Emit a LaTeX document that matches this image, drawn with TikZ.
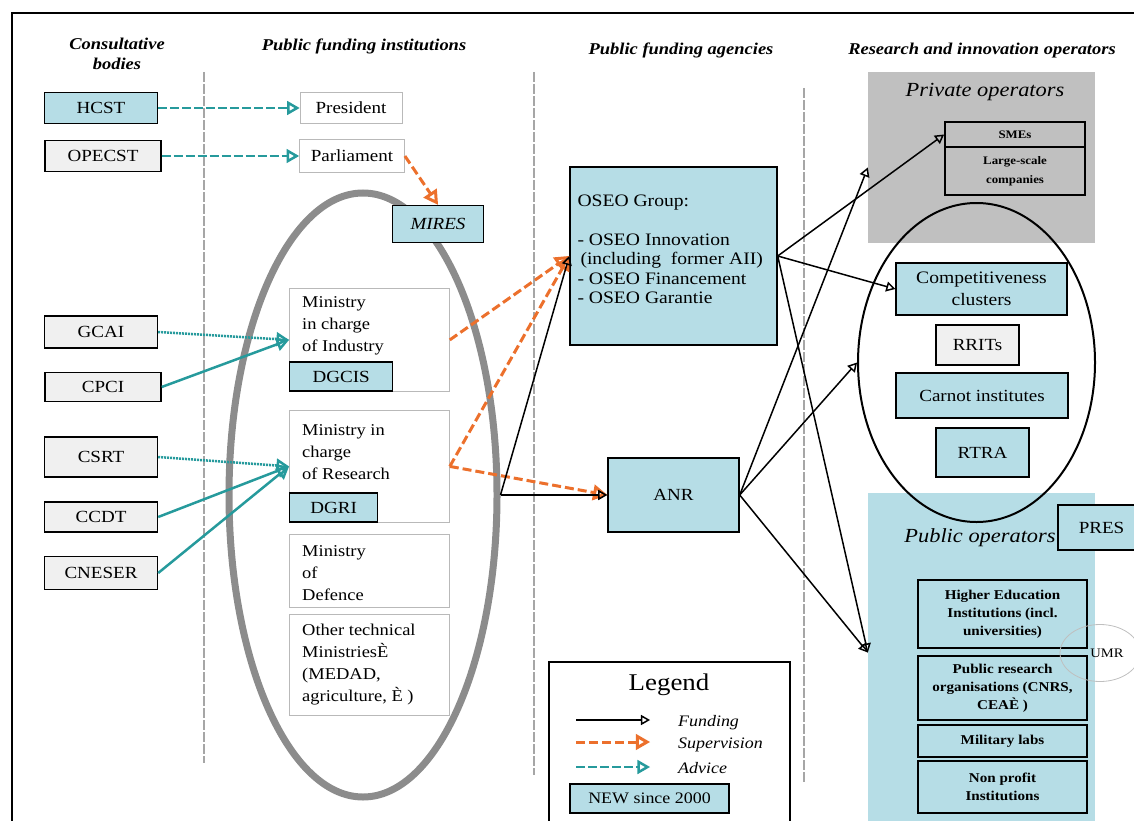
\documentclass[tikz,border=0pt]{standalone}
\usepackage{fontspec}
\setmainfont{Liberation Serif}[FakeStretch=1.12]
\usetikzlibrary{arrows,shapes.geometric}

\definecolor{lblue}{RGB}{182,221,230}
\definecolor{lgray}{RGB}{240,240,240}
\definecolor{pgray}{RGB}{192,192,192}
\definecolor{tealc}{RGB}{38,154,156}
\definecolor{orangec}{RGB}{236,112,44}

\begin{document}
\begin{tikzpicture}[x=1pt,y=-1pt,
  colhead/.style={inner sep=0pt,align=center,font=\fontsize{16.5}{20}\selectfont\bfseries\itshape},
  sepline/.style={gray!70,line width=2.5pt,dash pattern=on 10pt off 2pt},
  consbox/.style={draw,line width=1.4pt,fill=lgray,minimum width=113pt,minimum height=31pt,inner sep=0pt,font=\fontsize{17}{21}\selectfont},
  instbox/.style={draw=gray!55,line width=0.8pt,fill=white,inner sep=0pt,font=\fontsize{17}{21}\selectfont},
  minbox/.style={draw=gray!55,line width=0.8pt,fill=white,minimum width=160pt,inner sep=0pt,anchor=north west},
  mtext/.style={inner sep=0pt,anchor=north west,align=left,font=\fontsize{16.5}{22}\selectfont},
  agency/.style={draw,line width=1.4pt,fill=lblue,inner sep=0pt,align=center,font=\fontsize{17}{21}\selectfont},
  smallop/.style={draw,line width=1.8pt,fill=pgray,minimum width=140pt,inner sep=0pt,align=center,font=\fontsize{11.5}{19}\selectfont\bfseries},
  oper/.style={draw,line width=1.8pt,fill=lblue,minimum width=169pt,inner sep=0pt,align=center,font=\fontsize{13.5}{18}\selectfont\bfseries},
  legtxt/.style={inner sep=0pt,anchor=west,font=\fontsize{16}{20}\selectfont\itshape},
  fund/.style={->,>=open triangle 60,line width=1.5pt},
  superv/.style={->,>=open triangle 60,orangec,line width=3pt,dash pattern=on 9pt off 4pt},
  advice/.style={->,>=open triangle 60,tealc,line width=2.5pt},
  adashed/.style={dash pattern=on 9pt off 3pt},
  adotted/.style={dash pattern=on 2pt off 1pt}
]
\useasboundingbox (0,0) rectangle (1134,821);

\draw[line width=2.5pt] (12,821) -- (12,13) -- (1134,13);

\node[colhead] (hcons) at (117,54) {Consultative\\bodies};
\node[colhead] (hinst) at (364,46) {Public funding institutions};
\node[colhead] (hagen) at (681,50) {Public funding agencies};
\node[colhead] (hoper) at (982,51) {Research and innovation operators};

\draw[sepline] (204,72) -- (204,763);
\draw[sepline] (534,72) -- (534,775);
\draw[sepline] (804,88) -- (804,783);

\node[draw=gray!90,line width=7pt,ellipse,minimum width=268pt,minimum height=604pt,inner sep=0pt] (gov) at (363,495) {};

\node[consbox,fill=lblue] (hcst) at (101,108) {HCST};
\node[consbox,minimum width=116pt] (opecst) at (103,156) {OPECST};
\node[consbox,minimum height=32pt] (gcai) at (101,332) {GCAI};
\node[consbox,minimum width=116pt,minimum height=29pt] (cpci) at (103,387) {CPCI};
\node[consbox,minimum height=40pt] (csrt) at (101,457) {CSRT};
\node[consbox,minimum height=30pt] (ccdt) at (101,517) {CCDT};
\node[consbox,minimum height=33pt] (cneser) at (101,573) {CNESER};

\node[instbox,minimum width=102pt,minimum height=31pt] (pres) at (351,108) {President};
\node[instbox,minimum width=105pt,minimum height=33pt] (parl) at (352,156) {Parliament};
\node[agency,minimum width=91pt,minimum height=37pt,font=\fontsize{17}{21}\selectfont\itshape] (mires) at (438,224) {MIRES};

\node[minbox,minimum height=103pt] (ind) at (289,288) {};
\node[minbox,minimum height=112pt] (res) at (289,410) {};
\node[minbox,minimum height=73pt] (def) at (289,534) {};
\node[minbox,minimum height=101pt] (oth) at (289,614) {};
\node[mtext] (indtxt) at ([xshift=13pt,yshift=-8pt]ind.north west) {Ministry\\in charge\\of Industry};
\node[mtext] (restxt) at ([xshift=13pt,yshift=-14pt]res.north west) {Ministry in\\charge\\of Research};
\node[mtext] (deftxt) at ([xshift=13pt,yshift=-11pt]def.north west) {Ministry\\of\\Defence};
\node[mtext] (othtxt) at ([xshift=13pt,yshift=-10pt]oth.north west) {Other technical\\MinistriesÈ\\(MEDAD,\\agriculture, È )};
\node[agency,anchor=south west,minimum width=103pt,minimum height=29pt] (dgcis) at (ind.south west) {DGCIS};
\node[agency,anchor=south west,minimum width=88pt,minimum height=29pt] (dgri) at (res.south west) {DGRI};

\node[agency,minimum width=207pt,minimum height=178pt] (oseo) at (673.5,256) {};
\node[inner sep=0pt,anchor=north west,align=left,font=\fontsize{17.5}{19.5}\selectfont] (oseotxt) at ([xshift=8pt,yshift=-28pt]oseo.north west)
  {OSEO Group:\\[19.5pt]- OSEO Innovation\\\hspace{3pt}(including~~former AII)\\- OSEO Financement\\- OSEO Garantie};
\node[agency,minimum width=131pt,minimum height=74pt] (anr) at (673.5,495) {ANR};

\node[fill=pgray,minimum width=227pt,minimum height=171pt,inner sep=0pt] (priv) at (981.5,157.5) {};
\node[inner sep=0pt,font=\fontsize{20}{24}\selectfont\itshape] (privtxt) at (985,92) {Private operators};
\node[fill=lblue,minimum width=227pt,minimum height=337pt,inner sep=0pt] (pub) at (981.5,661.5) {};
\node[draw,line width=2pt,ellipse,minimum width=237pt,minimum height=319pt,inner sep=0pt] (clus) at (976.5,362.5) {};

\node[smallop,minimum height=25pt] (smes) at (1015,134.5) {SMEs};
\node[smallop,minimum height=48pt] (large) at (1015,171) {Large-scale\\companies};

\node[agency,minimum width=171pt,minimum height=52pt,font=\fontsize{17.5}{22}\selectfont] (comp) at (981.5,289) {Competitiveness\\clusters};
\node[agency,fill=lgray,minimum width=83pt,minimum height=40pt] (rrit) at (977.5,345) {RRITs};
\node[agency,minimum width=172pt,minimum height=45pt,font=\fontsize{17}{22}\selectfont] (carnot) at (982,395.5) {Carnot institutes};
\node[agency,minimum width=93pt,minimum height=49pt] (rtra) at (982.5,452.5) {RTRA};

\node[inner sep=0pt,font=\fontsize{20}{24}\selectfont\itshape] (pubtxt) at (980,538) {Public operators};
\node[agency,minimum width=87pt,minimum height=45pt] (presb) at (1101.5,527.5) {PRES};
\node[oper,minimum height=68pt] (hei) at (1002.5,614) {Higher Education\\Institutions (incl.\\universities)};
\node[oper,minimum height=64pt] (pro) at (1002.5,688) {Public research\\organisations (CNRS,\\CEAÈ )};
\node[oper,minimum height=32pt] (mil) at (1002.5,741) {Military labs};
\node[oper,minimum height=52pt] (npi) at (1002.5,787) {Non profit\\Institutions};
\node[draw=gray!50,line width=0.8pt,ellipse,minimum width=80pt,minimum height=57pt,inner sep=0pt] (umr) at (1100,653) {};
\node[inner sep=0pt,font=\fontsize{13}{15}\selectfont] (umrtxt) at (1107,653) {UMR};

\node[draw,line width=1.4pt,fill=white,minimum width=241pt,minimum height=168pt,inner sep=0pt] (legend) at (669.5,746) {};
\node[inner sep=0pt,font=\fontsize{24}{28}\selectfont] (legtitle) at (669,685) {Legend};
\coordinate (lf1) at (576,720); \coordinate (lf2) at (650,720);
\coordinate (ls1) at (576,742); \coordinate (ls2) at (650,742);
\coordinate (la1) at (576,767); \coordinate (la2) at (650,767);
\node[legtxt] (lftxt) at (678,723) {Funding};
\node[legtxt] (lstxt) at (678,745) {Supervision};
\node[legtxt] (latxt) at (678,768) {Advice};
\node[agency,minimum width=159pt,minimum height=29pt,font=\fontsize{16}{20}\selectfont] (newbox) at (649.5,798.5) {NEW since 2000};

\coordinate (pubin) at ([yshift=9pt]pub.west);
\coordinate (privin) at ([yshift=-10pt]priv.west);

\draw[advice,adashed] (hcst.east) -- (pres.west);
\draw[advice,adashed] (opecst.east) -- (parl.west);
\draw[advice,adotted] (gcai.east) -- (ind.west);
\draw[advice] (cpci.east) -- (ind.west);
\draw[advice,adotted] (csrt.east) -- (res.west);
\draw[advice] (ccdt.east) -- (res.west);
\draw[advice] (cneser.east) -- (res.west);

\draw[superv] (parl.east) -- (mires.north);
\draw[superv] (ind.east) -- (oseo.west);
\draw[superv] (res.east) -- (oseo.west);
\draw[superv] (res.east) -- (anr.west);

\draw[fund] (gov.east) -- (oseo.west);
\draw[fund] (gov.east) -- (anr.west);
\draw[fund] (oseo.east) -- (smes.west);
\draw[fund] (oseo.east) -- (comp.west);
\draw[fund] (oseo.east) -- (pubin);
\draw[fund] (anr.east) -- (privin);
\draw[fund] (anr.east) -- (clus.west);
\draw[fund] (anr.east) -- (pubin);

\draw[fund] (lf1) -- (lf2);
\draw[superv] (ls1) -- (ls2);
\draw[advice,adashed] (la1) -- (la2);

\end{tikzpicture}
\end{document}
